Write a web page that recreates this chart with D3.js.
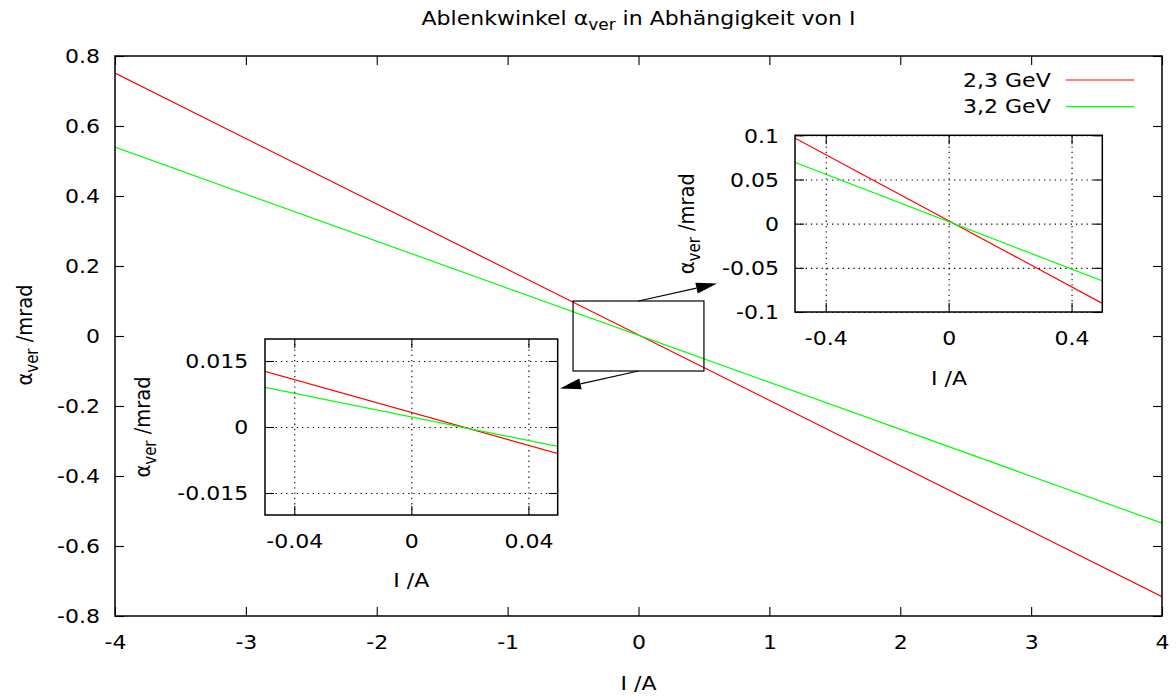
<!DOCTYPE html>
<html><head><meta charset="utf-8">
<script src="https://cdn.jsdelivr.net/npm/d3@7"></script>
<style>
body{margin:0;background:#fff}
svg{display:block}
text{font-family:"DejaVu Sans",sans-serif;font-size:19.5px;fill:#000}
</style>
</head><body>
<svg id="c" width="1176" height="697"></svg>
<script>
// ---------- data ----------
const seriesNames = ["2,3 GeV", "3,2 GeV"];
const seriesColors = ["#ff0000", "#00ff00"];
const currentI = [-4, 4];
const alpha23 = [0.7513, -0.7447];
const alpha32 = [0.5395, -0.5349];
const seriesValues = [alpha23, alpha32];

const mainXTicks = [-4, -3, -2, -1, 0, 1, 2, 3, 4];
const mainXLabels = ["-4", "-3", "-2", "-1", "0", "1", "2", "3", "4"];
const mainYTicks = [-0.8, -0.6, -0.4, -0.2, 0, 0.2, 0.4, 0.6, 0.8];
const mainYLabels = ["-0.8", "-0.6", "-0.4", "-0.2", "0", "0.2", "0.4", "0.6", "0.8"];

const smallXTicks = [-0.04, 0, 0.04];
const smallXLabels = ["-0.04", "0", "0.04"];
const smallYTicks = [-0.015, 0, 0.015];
const smallYLabels = ["-0.015", "0", "0.015"];

const bigXTicks = [-0.4, 0, 0.4];
const bigXLabels = ["-0.4", "0", "0.4"];
const bigYTicks = [-0.1, -0.05, 0, 0.05, 0.1];
const bigYLabels = ["-0.1", "-0.05", "0", "0.05", "0.1"];

const zoomRectI = [-0.5, 0.5];
const zoomRectA = [-0.1, 0.1];
const arrowStarts = [[0, 0.1], [0, -0.1]];
const arrowTips = [[0.6, 0.15], [-0.6, -0.15]];

// ---------- drawing ----------
const S = 1.13;       // horizontal text stretch of the reference
const svg = d3.select("#c");
let clipId = 0;

function stretch(sel, rot) {
  sel.each(function () {
    const t = d3.select(this);
    const x = +t.attr("x") || 0, y = +t.attr("y") || 0;
    t.attr("x", 0).attr("y", 0)
     .attr("transform", `translate(${x},${y}) scale(${S},1)` + (rot ? ` rotate(${rot})` : ""));
  });
}

function subLabel(g, parts, x, y, anchor, rot) {
  const t = g.append("text").attr("x", x).attr("y", y).attr("text-anchor", anchor);
  t.append("tspan").text(parts[0]);
  t.append("tspan").text(parts[1]).style("font-size", "15px").attr("dy", 5);
  t.append("tspan").text(parts[2]).attr("dy", -5);
  stretch(t, rot);
  return t;
}

function panel(c) {
  const g = svg.append("g");
  const x = d3.scaleLinear().domain(c.xd).range([c.x0, c.x1]);
  const y = d3.scaleLinear().domain(c.yd).range([c.y1, c.y0]);
  const W = c.x1 - c.x0, H = c.y1 - c.y0;
  if (c.bg) g.append("rect").attr("x", c.x0).attr("y", c.y0).attr("width", W).attr("height", H).attr("fill", "#fff");
  const id = "clip" + (clipId++);
  g.append("clipPath").attr("id", id).append("rect").attr("x", c.x0).attr("y", c.y0).attr("width", W).attr("height", H);

  if (c.grid) {
    const gx = g.append("g").attr("transform", `translate(0,${c.y1})`)
      .call(d3.axisBottom(x).tickValues(c.xt).tickSize(-H).tickFormat(""));
    const gy = g.append("g").attr("transform", `translate(${c.x0},0)`)
      .call(d3.axisLeft(y).tickValues(c.yt).tickSize(-W).tickFormat(""));
    [gx, gy].forEach(a => { a.select(".domain").remove();
      a.selectAll("line").attr("stroke", "#000").attr("stroke-width", 1.1).attr("stroke-dasharray", "1.3,4"); });
  }

  const TK = 9;
  const bx = g.append("g").attr("transform", `translate(0,${c.y1})`)
    .call(d3.axisBottom(x).tickValues(c.xt).tickFormat((d, i) => c.xl[i]).tickSizeInner(-TK).tickSizeOuter(0));
  const tx = g.append("g").attr("transform", `translate(0,${c.y0})`)
    .call(d3.axisTop(x).tickValues(c.xt).tickFormat("").tickSizeInner(-TK).tickSizeOuter(0));
  const ly = g.append("g").attr("transform", `translate(${c.x0},0)`)
    .call(d3.axisLeft(y).tickValues(c.yt).tickFormat((d, i) => c.yl[i]).tickSizeInner(-TK).tickSizeOuter(0));
  const ry = g.append("g").attr("transform", `translate(${c.x1},0)`)
    .call(d3.axisRight(y).tickValues(c.yt).tickFormat("").tickSizeInner(-TK).tickSizeOuter(0));
  [bx, tx, ly, ry].forEach(a => { a.select(".domain").remove(); a.attr("font-size", null).attr("font-family", null);
    a.selectAll("line").attr("stroke-width", 1.1); });
  bx.selectAll("text").attr("y", c.xtickBase - c.y1).attr("dy", 0);
  stretch(bx.selectAll("text"));
  ly.selectAll("text").attr("x", c.ytickEnd - c.x0).attr("dy", "0.35em");
  stretch(ly.selectAll("text"));

  const line = d3.line().x(d => x(d[0])).y(d => y(d[1]));
  seriesValues.forEach((vals, k) => {
    g.append("path").attr("clip-path", `url(#${id})`)
      .attr("d", line(currentI.map((v, i) => [v, vals[i]])))
      .attr("fill", "none").attr("stroke", seriesColors[k]).attr("stroke-width", 1.2);
  });

  g.append("rect").attr("x", c.x0).attr("y", c.y0).attr("width", W).attr("height", H)
    .attr("fill", "none").attr("stroke", "#000").attr("stroke-width", 1.5);

  const xt = g.append("text").attr("x", c.xlabX).attr("y", c.xlabBase).attr("text-anchor", "middle").text("I /A");
  stretch(xt);
  subLabel(g, ["α", "ver", " /mrad"], c.ylabX, c.ylabY, "middle", -90);
  return { x, y, g };
}

// title
subLabel(svg, ["Ablenkwinkel α", "ver", " in Abhängigkeit von I"], 638.5, 25, "middle");

// main plot
const M = panel({ x0: 115, x1: 1162, y0: 56, y1: 616, xd: [-4, 4], yd: [-0.8, 0.8],
  xt: mainXTicks, xl: mainXLabels, yt: mainYTicks, yl: mainYLabels, grid: false,
  xtickBase: 649, ytickEnd: 100, xlabX: 638.5, xlabBase: 690, ylabX: 32, ylabY: 335 });

// zoom rectangle
M.g.append("rect").attr("x", M.x(zoomRectI[0])).attr("y", M.y(zoomRectA[1]))
  .attr("width", M.x(zoomRectI[1]) - M.x(zoomRectI[0])).attr("height", M.y(zoomRectA[0]) - M.y(zoomRectA[1]))
  .attr("fill", "none").attr("stroke", "#000").attr("stroke-width", 1.2);

// arrows
arrowStarts.forEach((s, i) => {
  const sx = M.x(s[0]), sy = M.y(s[1]);
  const px = M.x(arrowTips[i][0]), py = M.y(arrowTips[i][1]);
  const dx = px - sx, dy = py - sy, len = Math.hypot(dx, dy);
  const ux = dx / len, uy = dy / len, L = 21, w = 5.5;
  const bxp = px - ux * L, byp = py - uy * L;
  M.g.append("line").attr("x1", sx).attr("y1", sy).attr("x2", bxp).attr("y2", byp)
    .attr("stroke", "#000").attr("stroke-width", 1.2);
  M.g.append("path").attr("d", `M${px},${py}L${bxp - uy * w},${byp + ux * w}L${bxp + uy * w},${byp - ux * w}Z`)
    .attr("fill", "#000");
});

// legend
seriesNames.forEach((n, i) => {
  const yb = [86.7, 113.3][i];
  const t = svg.append("text").attr("x", 1050.7).attr("y", yb).attr("text-anchor", "end").text(n);
  stretch(t);
  svg.append("line").attr("x1", 1066).attr("x2", 1134).attr("y1", yb - 6.7).attr("y2", yb - 6.7)
    .attr("stroke", seriesColors[i]).attr("stroke-width", 1.2);
});

// small inset
panel({ x0: 265, x1: 557.7, y0: 339, y1: 515, xd: [-0.05, 0.05], yd: [-0.02, 0.02],
  xt: smallXTicks, xl: smallXLabels, yt: smallYTicks, yl: smallYLabels, grid: true, bg: true,
  xtickBase: 548.3, ytickEnd: 248.3, xlabX: 411.3, xlabBase: 587, ylabX: 150, ylabY: 427 });

// large inset
panel({ x0: 795, x1: 1102.3, y0: 135.3, y1: 312, xd: [-0.5, 0.5], yd: [-0.1, 0.1],
  xt: bigXTicks, xl: bigXLabels, yt: bigYTicks, yl: bigYLabels, grid: true, bg: true,
  xtickBase: 345, ytickEnd: 779, xlabX: 949, xlabBase: 385, ylabX: 694, ylabY: 223.7 });
</script>
</body></html>
